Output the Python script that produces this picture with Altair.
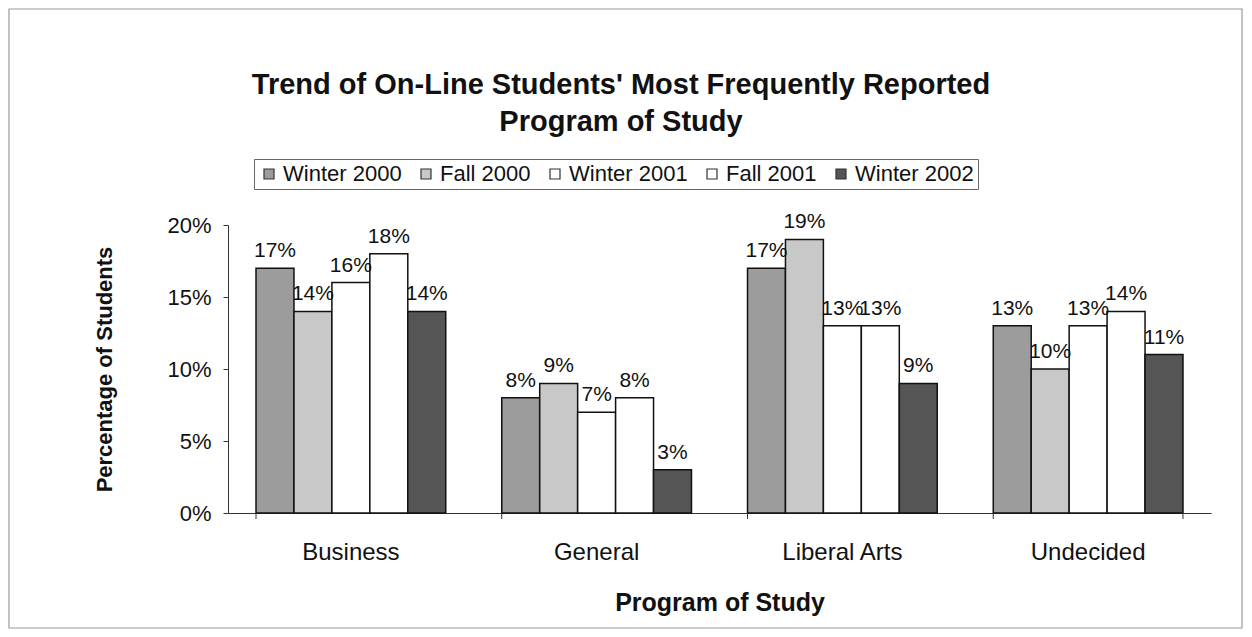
import altair as alt
import pandas as pd

programs = ["Business", "General", "Liberal Arts", "Undecided"]
terms = ["Winter 2000", "Fall 2000", "Winter 2001", "Fall 2001", "Winter 2002"]
winter_2000 = [17, 8, 17, 13]
fall_2000 = [14, 9, 19, 10]
winter_2001 = [16, 7, 13, 13]
fall_2001 = [18, 8, 13, 14]
winter_2002 = [14, 3, 9, 11]
term_colors = ["#9c9c9c", "#c8c8c8", "#ffffff", "#ffffff", "#555555"]
y_ticks = [0, 5, 10, 15, 20]
title_lines = ["Trend of On-Line Students' Most Frequently Reported", "Program of Study"]

series = [winter_2000, fall_2000, winter_2001, fall_2001, winter_2002]
rows = []
for t, vals in zip(terms, series):
    for p, v in zip(programs, vals):
        rows.append({"Program": p, "Term": t, "Pct": v})
df = pd.DataFrame(rows)

FONT = "Liberation Sans"

x_enc = alt.X(
    "Program:N",
    sort=programs,
    scale=alt.Scale(paddingInner=0.228, paddingOuter=0.114),
    axis=alt.Axis(
        title="Program of Study",
        labelAngle=0,
        labelFontSize=24,
        labelPadding=27,
        labelColor="#111",
        ticks=False,
        domainColor="#333",
        titleFontSize=25,
        titleFontWeight="bold",
        titlePadding=26,
        titleColor="#111",
    ),
)
xoff = alt.XOffset("Term:N", sort=terms, scale=alt.Scale(paddingInner=0, paddingOuter=0))
y_enc = alt.Y(
    "Pct:Q",
    scale=alt.Scale(domain=[0, 20], nice=False),
    axis=alt.Axis(
        title="Percentage of Students",
        values=y_ticks,
        labelExpr="datum.value + '%'",
        labelFontSize=22,
        labelPadding=12,
        labelColor="#111",
        tickSize=5,
        tickColor="#333",
        domainColor="#333",
        grid=False,
        titleFontSize=22,
        titleFontWeight="bold",
        titlePadding=50,
        titleColor="#111",
    ),
)

bars = alt.Chart(df).mark_bar(stroke="#111", strokeWidth=1.5).encode(
    x=x_enc,
    xOffset=xoff,
    y=y_enc,
    fill=alt.Fill(
        "Term:N",
        sort=terms,
        scale=alt.Scale(domain=terms, range=term_colors),
        legend=alt.Legend(
            title=None,
            orient="none",
            legendX=26,
            legendY=-66,
            direction="horizontal",
            columns=5,
            labelFontSize=22,
            labelColor="#111",
            symbolType="square",
            symbolSize=100,
            symbolStrokeColor="#333",
            symbolStrokeWidth=1.2,
            labelOffset=3,
            columnPadding=13,
            strokeColor="#666",
            padding=4,
        ),
    ),
)

labels = alt.Chart(df).transform_calculate(
    lab="datum.Pct + '%'"
).mark_text(baseline="bottom", dy=-7, fontSize=21, color="#111", font=FONT).encode(
    x=alt.X("Program:N", sort=programs),
    xOffset=xoff,
    y=alt.Y("Pct:Q"),
    text="lab:N",
)

# tick marks at the category boundaries
ticks = alt.Chart(pd.DataFrame({"Program": programs})).mark_rule(color="#333").encode(
    x=alt.X("Program:N", sort=programs, bandPosition=0),
    y=alt.value(288),
    y2=alt.value(294),
)
end_tick = alt.Chart(pd.DataFrame({"Program": programs[-1:]})).mark_rule(color="#333").encode(
    x=alt.X("Program:N", sort=programs, bandPosition=1),
    y=alt.value(288),
    y2=alt.value(294),
)

# outer chart frame
frame = alt.Chart(pd.DataFrame({"Program": programs[:1]})).mark_rect(
    fill=None, stroke="#9a9a9a", strokeWidth=1.2
).encode(
    x=alt.value(-219),
    x2=alt.value(1014),
    y=alt.value(-216),
    y2=alt.value(403),
)

# chart title (two lines)
title_df = pd.DataFrame({"line": title_lines, "ypos": [-140, -103]})
title = alt.Chart(title_df).mark_text(
    fontSize=29, fontWeight="bold", color="#111", font=FONT, align="center", baseline="middle"
).encode(
    x=alt.value(393),
    y=alt.Y("ypos:Q", scale=None),
    text="line:N",
)

chart = (
    alt.layer(frame, title, bars, labels, ticks, end_tick)
    .properties(
        width=983,
        height=288,
        autosize=alt.AutoSizeParams(type="none"),
        padding={"left": 220, "top": 217, "right": 33, "bottom": 116},
    )
    .configure(font=FONT, background="white")
    .configure_view(stroke=None)
)

chart.save("out.html", embed_options={"renderer": "svg", "actions": False})
